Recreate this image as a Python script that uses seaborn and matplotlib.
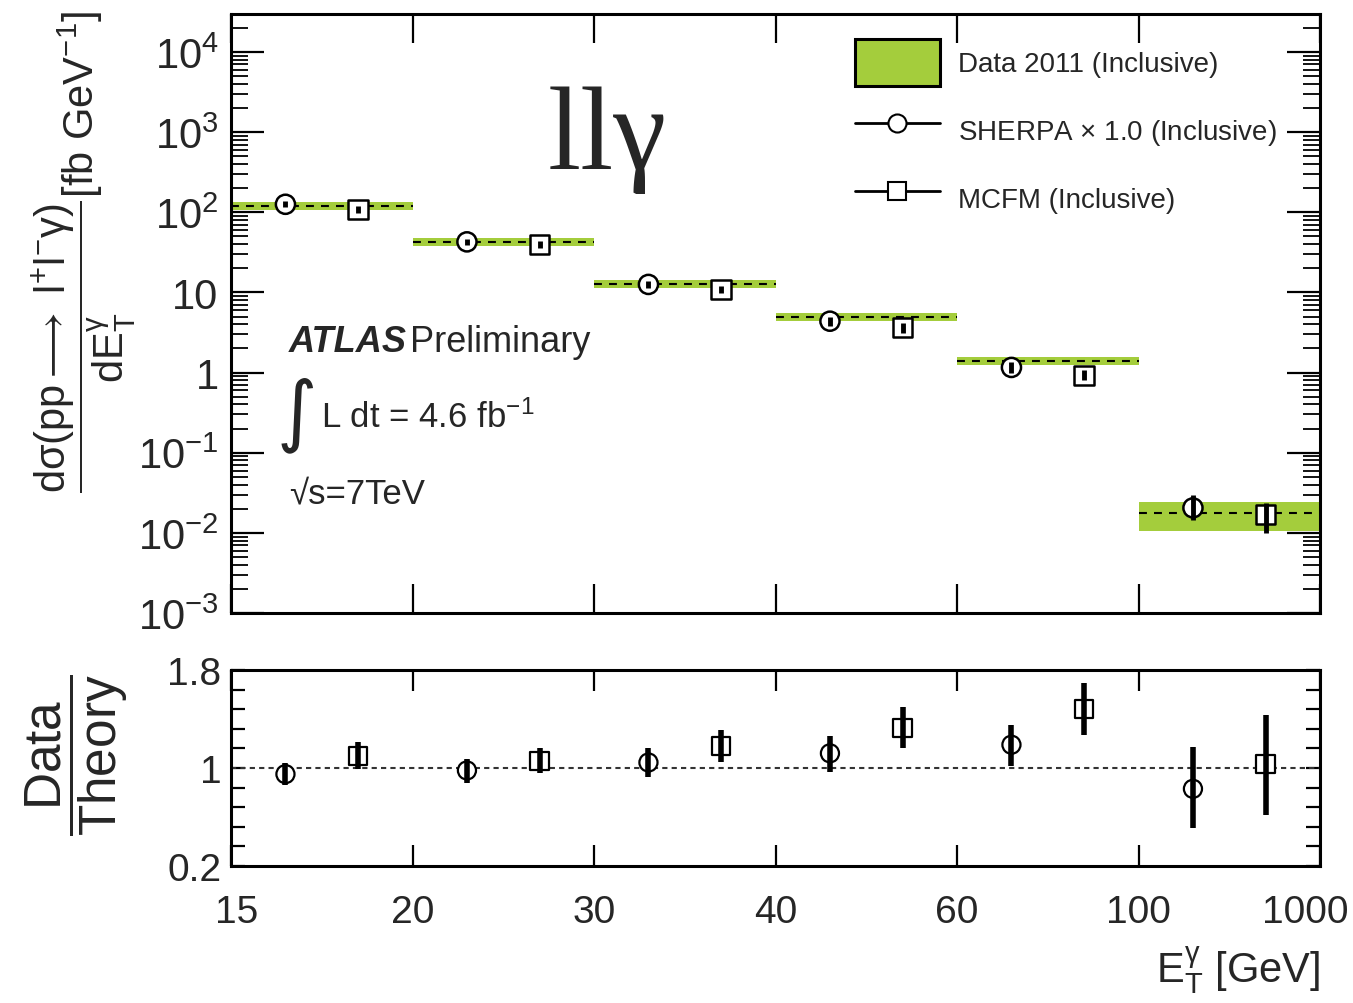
import numpy as np
import pandas as pd
import matplotlib
matplotlib.use('Agg')
import matplotlib.pyplot as plt
import seaborn as sns
from matplotlib.patches import Patch
from matplotlib.lines import Line2D
from matplotlib.transforms import ScaledTranslation
from matplotlib.ticker import FixedLocator, FixedFormatter, LogLocator, NullFormatter, NullLocator

# ---------------- data ----------------
edge_labels = ['15', '20', '30', '40', '60', '100', '1000']

data_xsec = [120, 42.5, 12.9, 4.91, 1.38, 0.0176]
data_lo = [107, 38.0, 11.5, 4.38, 1.23, 0.0107]
data_hi = [134, 47.5, 14.4, 5.50, 1.55, 0.0246]

sherpa_top = [126, 42.8, 12.6, 4.38, 1.16, 0.0205]
sherpa_top_lo = [115, 39.0, 11.5, 3.80, 1.00, 0.0146]
sherpa_top_hi = [138, 47.0, 13.8, 5.00, 1.35, 0.0298]

mcfm_top = [109, 39.8, 10.9, 3.62, 0.93, 0.0170]
mcfm_top_lo = [99, 36.0, 9.9, 3.10, 0.80, 0.0100]
mcfm_top_hi = [120, 44.0, 12.0, 4.20, 1.08, 0.0237]

sherpa_ratio = [0.95, 0.98, 1.045, 1.12, 1.19, 0.83]
sherpa_ratio_lo = [0.86, 0.88, 0.93, 0.97, 1.02, 0.51]
sherpa_ratio_hi = [1.04, 1.07, 1.16, 1.26, 1.35, 1.17]

mcfm_ratio = [1.095, 1.06, 1.18, 1.33, 1.48, 1.03]
mcfm_ratio_lo = [0.99, 0.96, 1.05, 1.16, 1.27, 0.62]
mcfm_ratio_hi = [1.21, 1.16, 1.31, 1.50, 1.69, 1.43]

legend_labels = ['Data 2011 (Inclusive)', r'SHERPA $\times$ 1.0 (Inclusive)', 'MCFM (Inclusive)']

# ---------------- style ----------------
sns.set_theme(style='ticks')
plt.rcParams['font.family'] = ['Liberation Sans', 'DejaVu Sans']
plt.rcParams['mathtext.fontset'] = 'custom'
plt.rcParams['mathtext.rm'] = 'Liberation Sans'
plt.rcParams['mathtext.it'] = 'Liberation Sans:italic'
plt.rcParams['mathtext.bf'] = 'Liberation Sans:bold'
plt.rcParams['mathtext.sf'] = 'Liberation Sans'
plt.rcParams['axes.linewidth'] = 2.2
plt.rcParams['axes.edgecolor'] = 'black'

W, H = 1353, 1004
fig = plt.figure(figsize=(W / 100, H / 100), dpi=100)


def fx(px):
    return px / W


def fy(py):
    return 1 - py / H


ax = fig.add_axes([fx(231), fy(614), fx(1320) - fx(231), fy(15) - fy(614)])
axr = fig.add_axes([fx(231), fy(867), fx(1320) - fx(231), fy(671) - fy(867)])

GREEN = '#A4CD3C'
nb = len(data_xsec)
bins = np.arange(nb)
x_sh = bins + 0.3
x_mc = bins + 0.7

# ---------------- top panel ----------------
for i in range(nb):
    ax.fill_between([i, i + 1], data_lo[i], data_hi[i], color=GREEN, lw=0, zorder=1)
    ax.plot([i, i + 1], [data_xsec[i]] * 2, ls=(0, (3.8, 3.4)), color='black', lw=1.5, zorder=2)

df_top = pd.DataFrame({'x': np.concatenate([x_sh, x_mc]),
                       'y': np.concatenate([sherpa_top, mcfm_top]),
                       'model': ['SHERPA'] * nb + ['MCFM'] * nb})
sns.scatterplot(data=df_top, x='x', y='y', style='model', markers={'SHERPA': 'o', 'MCFM': 's'},
                s=190, facecolor='white', edgecolor='black', linewidth=1.8, legend=False,
                ax=ax, zorder=3)
ax.vlines(x_sh, sherpa_top_lo, sherpa_top_hi, color='black', lw=3.5, zorder=4)
ax.vlines(x_mc, mcfm_top_lo, mcfm_top_hi, color='black', lw=3.5, zorder=4)

ax.set_yscale('log')
ax.set_xlim(0, nb)
ax.set_ylim(1e-3, 10 ** 4.475)
ax.yaxis.set_major_locator(FixedLocator([10.0 ** k for k in range(-3, 5)]))
ax.yaxis.set_major_formatter(FixedFormatter([r'$10^{-3}$', r'$10^{-2}$', r'$10^{-1}$', '1', '10',
                                             r'$10^{2}$', r'$10^{3}$', r'$10^{4}$']))
ax.yaxis.set_minor_locator(LogLocator(base=10, subs=np.arange(2, 10), numticks=100))
ax.yaxis.set_minor_formatter(NullFormatter())
ax.xaxis.set_major_locator(FixedLocator(np.arange(nb + 1)))
ax.xaxis.set_minor_locator(NullLocator())
ax.set_xticklabels([])
ax.set_xlabel('')
ax.set_ylabel('')
ax.tick_params(axis='both', which='both', direction='in', top=True, right=True, color='black')
ax.tick_params(axis='x', which='major', length=21, width=1.6)
ax.tick_params(axis='y', which='major', length=24, width=1.6, labelsize=30, pad=9)
ax.tick_params(axis='y', which='minor', length=12, width=1.3)

# legend
handles = [Patch(facecolor=GREEN, edgecolor='black', linewidth=2.2),
           Line2D([0], [0], color='black', lw=2, marker='o', ms=13, mfc='white', mec='black', mew=1.5),
           Line2D([0], [0], color='black', lw=2, marker='s', ms=13, mfc='white', mec='black', mew=1.5)]
ax.legend(handles, legend_labels, loc='upper left', bbox_to_anchor=(fx(855), fy(40)),
          bbox_transform=fig.transFigure, frameon=False, fontsize=20, handlelength=3.05,
          handleheight=2.24, labelspacing=0.74, handletextpad=0.65, borderpad=0, borderaxespad=0)

# texts
fig.text(fx(607), fy(140), 'llγ', family=['Liberation Serif', 'DejaVu Serif'], fontsize=86,
         ha='center', va='center')
fig.text(fx(289), fy(343), 'ATLAS', fontsize=26, fontweight='bold', fontstyle='italic',
         ha='left', va='center')
fig.text(fx(410), fy(343), 'Preliminary', fontsize=26, ha='left', va='center')
fig.text(fx(297), fy(415), '∫', family=['DejaVu Sans'], fontsize=56, ha='center', va='center')
fig.text(fx(321), fy(418), r'L dt = 4.6 fb$^{\mathrm{-1}}$', fontsize=25, ha='left', va='center')
fig.text(fx(289), fy(494), '√s=7TeV', fontsize=25, ha='left', va='center')

fig.text(fx(84), fy(252),
         r'$\dfrac{\mathrm{d\sigma(pp}\longrightarrow\mathrm{\ l^{+}l^{-}\gamma)}}{\mathrm{dE_{T}^{\gamma}}}$[fb GeV$^{\mathrm{-1}}$]',
         rotation=90, fontsize=30, ha='center', va='center')

# ---------------- ratio panel ----------------
axr.axhline(1.0, ls=(0, (2.5, 2.0)), color='#333333', lw=1.5, zorder=1)
df_r = pd.DataFrame({'x': np.concatenate([x_sh, x_mc]),
                     'y': np.concatenate([sherpa_ratio, mcfm_ratio]),
                     'model': ['SHERPA'] * nb + ['MCFM'] * nb})
sns.scatterplot(data=df_r, x='x', y='y', style='model', markers={'SHERPA': 'o', 'MCFM': 's'},
                s=170, facecolor='white', edgecolor='black', linewidth=1.6, legend=False,
                ax=axr, zorder=3)
axr.vlines(x_sh, sherpa_ratio_lo, sherpa_ratio_hi, color='black', lw=4, zorder=4)
axr.vlines(x_mc, mcfm_ratio_lo, mcfm_ratio_hi, color='black', lw=4, zorder=4)

axr.set_xlim(0, nb)
axr.set_ylim(0.2, 1.8)
axr.xaxis.set_major_locator(FixedLocator(np.arange(nb + 1)))
axr.xaxis.set_major_formatter(FixedFormatter(edge_labels))
axr.xaxis.set_minor_locator(NullLocator())
axr.yaxis.set_major_locator(FixedLocator([0.2, 1.0, 1.8]))
axr.yaxis.set_major_formatter(FixedFormatter(['0.2', '1', '1.8']))
axr.yaxis.set_minor_locator(FixedLocator([0.36, 0.52, 0.68, 0.84, 1.16, 1.32, 1.48, 1.64]))
axr.set_xlabel('')
axr.set_ylabel('')
axr.tick_params(axis='both', which='both', direction='in', top=True, right=True, color='black')
axr.tick_params(axis='x', which='major', length=15, width=1.6, labelsize=28, pad=20)
axr.tick_params(axis='y', which='major', length=10, width=1.6, labelsize=28, pad=7)
axr.tick_params(axis='y', which='minor', length=10, width=1.6)

# nudge the edge tick labels inward like the reference
xt_labels = axr.get_xticklabels()
xt_labels[0].set_transform(xt_labels[0].get_transform() + ScaledTranslation(6 / 100, 0, fig.dpi_scale_trans))
xt_labels[-1].set_transform(xt_labels[-1].get_transform() + ScaledTranslation(-15 / 100, 0, fig.dpi_scale_trans))

fig.text(fx(77), fy(755), r'$\dfrac{\mathrm{Data}}{\mathrm{Theory}}$', rotation=90, fontsize=37,
         ha='center', va='center')
fig.text(fx(1320), fy(970), r'$\mathrm{E_{T}^{\gamma}}$ [GeV]', fontsize=30, ha='right', va='center')

fig.savefig('out.png', dpi=100, facecolor='white')
